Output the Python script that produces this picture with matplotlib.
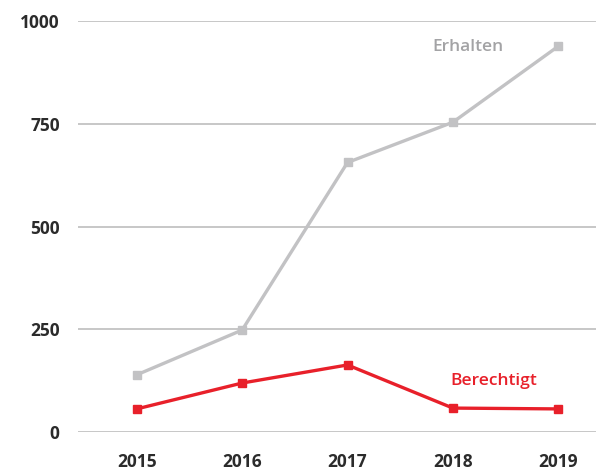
import matplotlib.pyplot as plt

years = [2015, 2016, 2017, 2018, 2019]
erhalten = [139, 248, 656, 754, 939]
berechtigt = [56, 119, 163, 58, 56]
yticks = [0, 250, 500, 750, 1000]

plt.rcParams['font.family'] = ['Open Sans', 'DejaVu Sans']

fig = plt.figure(figsize=(5.98, 4.71), dpi=100)
ax = fig.add_axes([0.130, 0.083, 0.867, 0.872])

grey = "#c2c2c4"
red = "#e8202a"

ax.plot(years, erhalten, color=grey, lw=2.4, marker="s", ms=5.5, clip_on=False, zorder=3)
ax.plot(years, berechtigt, color=red, lw=2.4, marker="s", ms=5.5, clip_on=False, zorder=3)

ax.text(2018.14, 937, "Erhalten", color="#a3a3a5", fontsize=12.5, fontweight="semibold",
        ha="center", va="center")
ax.text(2018.39, 124, "Berechtigt", color=red, fontsize=12.5, fontweight="semibold",
        ha="center", va="center")

ax.set_xlim(2014.44, 2019.36)
ax.set_ylim(0, 1000)
ax.set_xticks(years)
ax.set_yticks(yticks)
ax.set_xticklabels([str(y) for y in years], fontsize=12.5, fontweight="bold", color="#2b2b2b")
ax.set_yticklabels([str(v) for v in yticks], fontsize=12.5, fontweight="bold", color="#2b2b2b")

ax.grid(axis="y", color="#bdbdbd", lw=1.2)
ax.set_axisbelow(True)
ax.tick_params(length=0)
ax.tick_params(axis="y", pad=13)
ax.tick_params(axis="x", pad=15)
for s in ax.spines.values():
    s.set_visible(False)

fig.savefig("out.png", dpi=100)
